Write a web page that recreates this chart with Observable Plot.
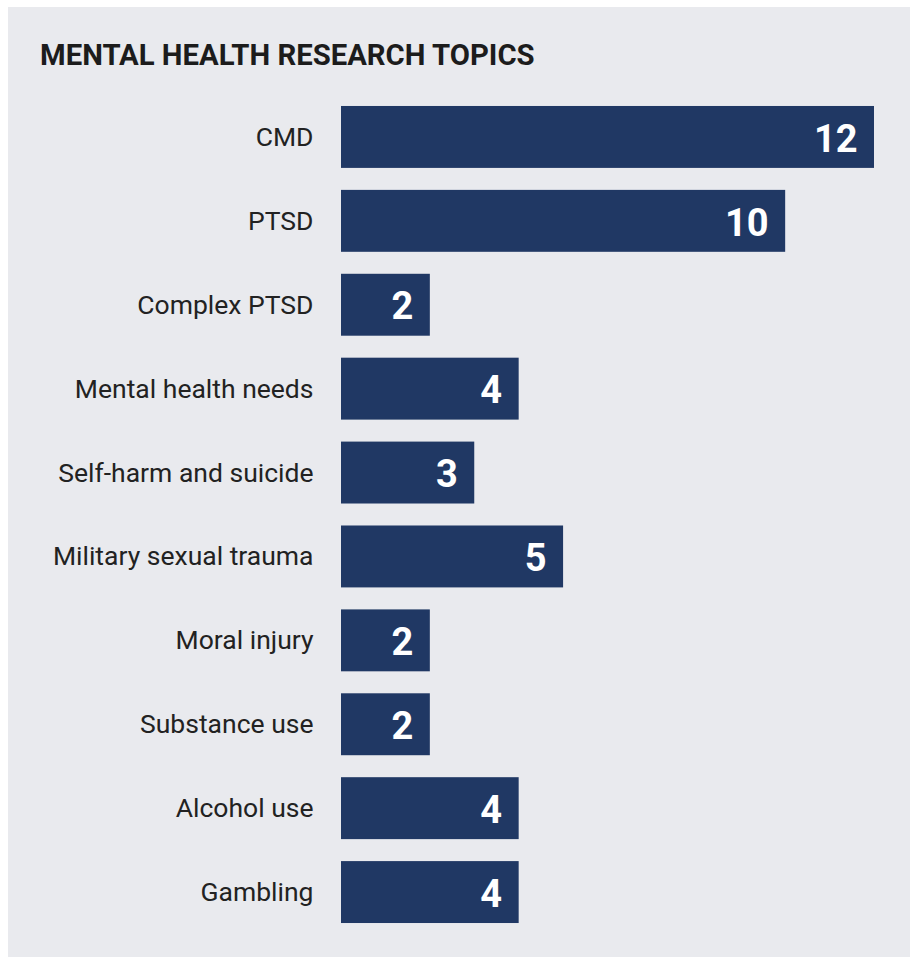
<!DOCTYPE html>
<html>
<head>
<meta charset="utf-8">
<script src="https://cdn.jsdelivr.net/npm/d3@7"></script>
<script src="https://cdn.jsdelivr.net/npm/@observablehq/plot@0.6"></script>
<style>
  html, body { margin: 0; padding: 0; background: #ffffff; }
  #panel { position: absolute; left: 8px; top: 7px; width: 902px; height: 950px; background: #e9eaee; font-family: Roboto, "Noto Sans", sans-serif; }
  #title { position: absolute; left: 32px; top: 31px; font-size: 29.3px; line-height: 1.171; font-weight: 700; color: #1c1c1c; white-space: nowrap; }
  #chart { position: absolute; left: 0; top: 0; }
</style>
</head>
<body>
<div id="panel">
  <div id="title">MENTAL HEALTH RESEARCH TOPICS</div>
  <div id="chart"></div>
</div>
<script>
const topics = ["CMD", "PTSD", "Complex PTSD", "Mental health needs", "Self-harm and suicide", "Military sexual trauma", "Moral injury", "Substance use", "Alcohol use", "Gambling"];
const counts = [12, 10, 2, 4, 3, 5, 2, 2, 4, 4];

const data = topics.map((t, i) => ({topic: t, count: counts[i]}));

const chart = Plot.plot({
  width: 902,
  height: 950,
  marginLeft: 333,
  marginRight: 36,
  marginTop: 77,
  marginBottom: 12,
  style: {background: "transparent", fontFamily: "Roboto, 'Noto Sans', sans-serif", overflow: "visible"},
  x: {domain: [0, 12], axis: null},
  y: {domain: topics, padding: 0.262, round: false, label: null},
  marks: [
    Plot.barX(data, {y: "topic", x: "count", fill: "#203864"}),
    Plot.axisY({tickSize: 0, tickPadding: 28, fontSize: 26.5, fill: "#222222", label: null}),
    Plot.text(data, {y: "topic", x: "count", text: d => String(d.count), textAnchor: "end", dx: -17, dy: 2, fill: "#ffffff", fontSize: 38, fontWeight: 700})
  ]
});
document.getElementById("chart").appendChild(chart);
</script>
</body>
</html>
